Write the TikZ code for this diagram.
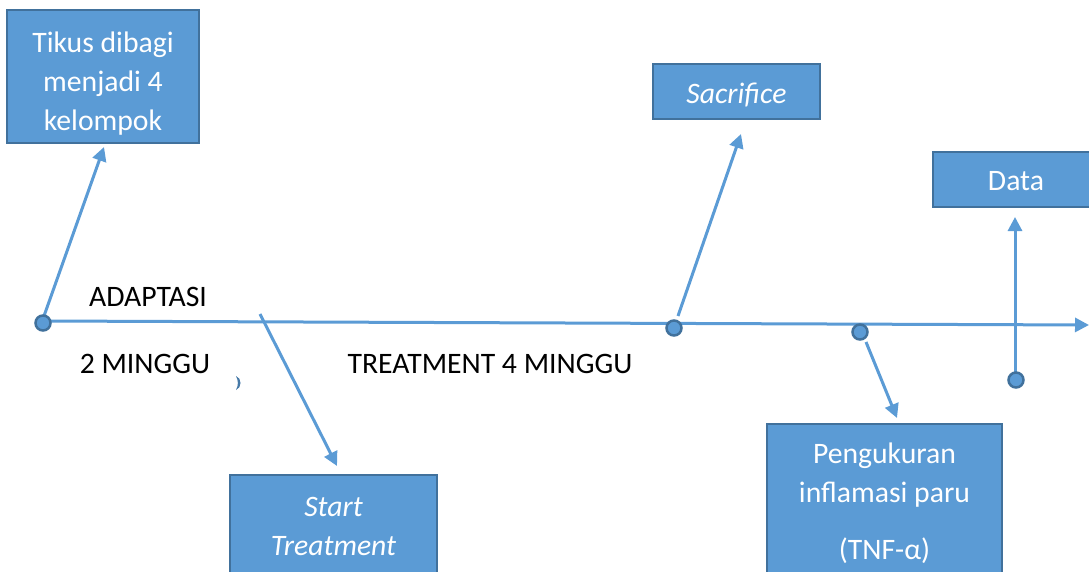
\documentclass[tikz,border=0pt]{standalone}
\usepackage{fontspec}
\setmainfont{Carlito}
\usetikzlibrary{arrows.meta}
\definecolor{fillblue}{HTML}{5B9BD5}
\definecolor{edgeblue}{HTML}{41719C}
\begin{document}
\begin{tikzpicture}[x=1pt,y=-1pt,
  box/.style={draw=edgeblue, line width=2.5pt, fill=fillblue, text=white, align=center,
    inner sep=0pt, font=\fontsize{29.7}{39}\selectfont},
  dot/.style={circle, draw=edgeblue, line width=2.5pt, fill=fillblue, minimum size=15pt, inner sep=0pt},
  conn/.style={draw=fillblue, line width=3pt, -{Triangle[length=14pt,width=14pt]}},
  lbl/.style={text=black, inner sep=0pt, font=\fontsize{29.7}{39}\selectfont}]
\useasboundingbox (0,0) rectangle (1089,572);
% boxes
\node[box, minimum width=192pt, minimum height=133pt] (tikus) at (103,76.5)
  {\raisebox{0pt}[\dimexpr\height+14pt\relax]{\begin{tabular}{@{}c@{}}Tikus dibagi\\menjadi 4\\kelompok\end{tabular}}};
\node[box, minimum width=167pt, minimum height=55pt] (sacr) at (736.5,91.5)
  {\raisebox{0pt}[\dimexpr\height+6pt\relax]{\itshape Sacrifice}};
\node[box, minimum width=166pt, minimum height=55pt] (data) at (1016,179.5)
  {\raisebox{0pt}[\dimexpr\height+4pt\relax]{Data}};
\node[box, minimum width=207pt, minimum height=102pt] (start) at (333.5,526)
  {\itshape Start\\\itshape Treatment};
\node[box, minimum width=235pt, minimum height=158pt] (peng) at (884.5,503)
  {Pengukuran\\inflamasi paru\\[18pt](TNF-α)};
% timeline
\coordinate (tl0) at (42,321);
\coordinate (tlend) at (1089,325);
\draw[conn] (tl0) -- (tlend);
% connector end points
\coordinate (a1s) at (44,316);   \coordinate (a1e) at (104,147);
\coordinate (a2s) at (260,314);  \coordinate (a2e) at (337,466);
\coordinate (a3s) at (678,316);  \coordinate (a3e) at (741,134);
\coordinate (a4s) at (866,342);  \coordinate (a4e) at (897,418);
\coordinate (a5s) at (1015,372); \coordinate (a5e) at (1015,217);
\draw[conn] (a1s) -- (a1e);
\draw[conn] (a2s) -- (a2e);
\draw[conn] (a3s) -- (a3e);
\draw[conn] (a4s) -- (a4e);
\draw[conn] (a5s) -- (a5e);
% dots
\node[dot] (d1) at (43,323) {};
\node[dot] (d2) at (674,328) {};
\node[dot] (d3) at (860,332) {};
\node[dot] (d4) at (1016,380) {};
% small crescent mark
\fill[edgeblue!80!fillblue] (236,376) .. controls (242,378) and (242,388) .. (236,390)
  .. controls (238.5,385) and (238.5,381) .. (236,376);
% labels
\node[lbl] (adapt) at (148,297) {ADAPTASI};
\node[lbl] (dua) at (145,364) {2 MINGGU};
\node[lbl] (treat) at (490,364) {TREATMENT 4 MINGGU};
\end{tikzpicture}
\end{document}
